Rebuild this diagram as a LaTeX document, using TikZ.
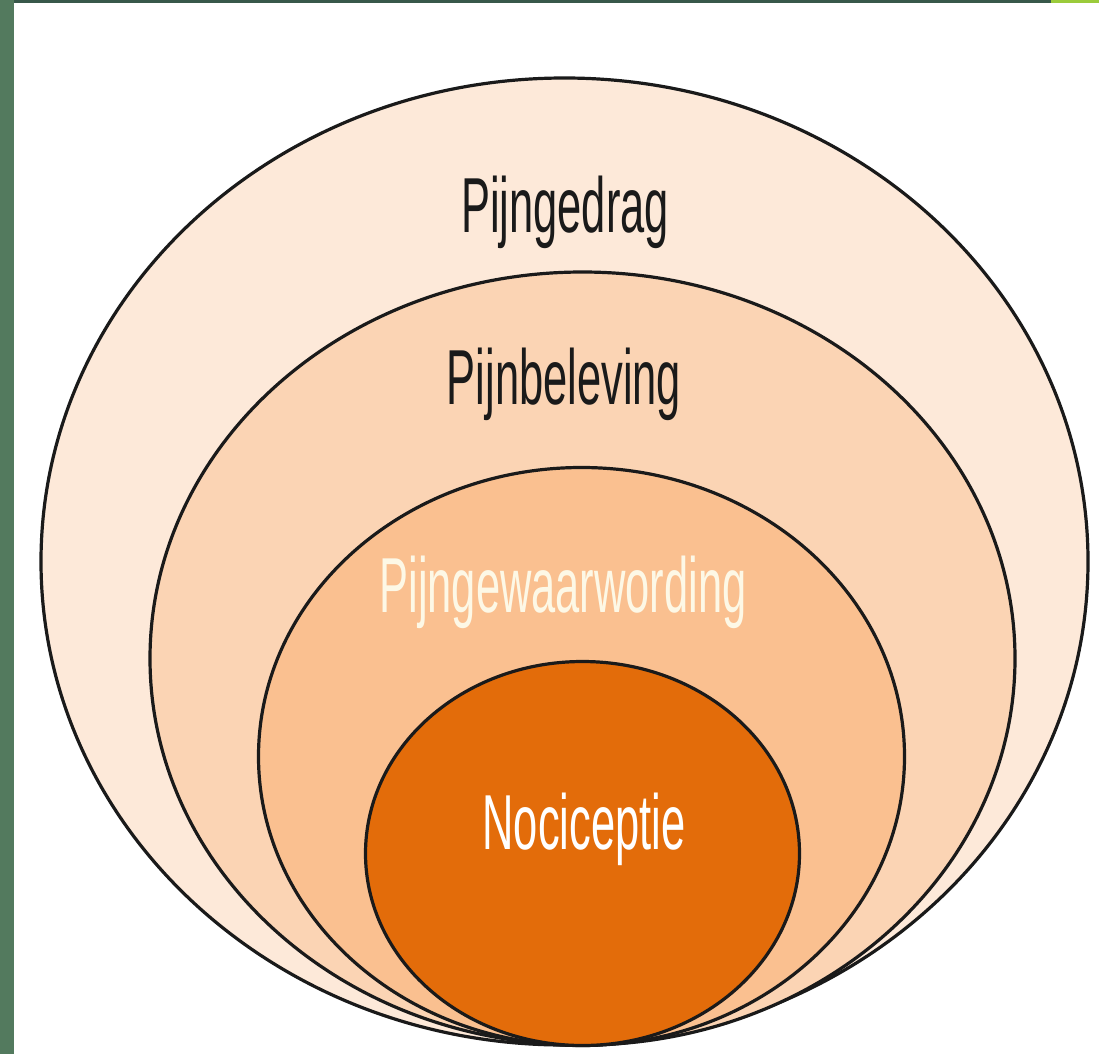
\documentclass[tikz,border=0pt]{standalone}
\usepackage{fontspec}
\setmainfont{Liberation Sans}
\usetikzlibrary{shapes.geometric}
\definecolor{ringA}{HTML}{FDE9D9}
\definecolor{ringB}{HTML}{FBD4B4}
\definecolor{ringC}{HTML}{FAC090}
\definecolor{core}{HTML}{E36C0A}
\definecolor{stripL}{HTML}{537A5E}
\definecolor{stripT}{HTML}{38584A}
\definecolor{stripG}{HTML}{9BCB3B}
\definecolor{ink}{HTML}{1A1A1A}
\definecolor{cream}{HTML}{FDF8E6}
\tikzset{
  layer/.style={ellipse, draw=ink, line width=3.2pt, inner sep=0pt},
  caption/.style={anchor=base, inner sep=0pt, font=\fontsize{78}{80}\selectfont},
}
\newcommand{\narrow}[1]{\scalebox{0.557}[1]{#1}}
\begin{document}
\begin{tikzpicture}[x=1pt,y=-1pt]
  % canvas and frame strips
  \fill[white] (0,0) rectangle (1099,1054);
  \useasboundingbox (0,0) rectangle (1099,1054);
  \fill[stripL] (0,0) rectangle (14,1054);
  \fill[stripT] (14,0) rectangle (1051,3);
  \fill[stripG] (1051,0) rectangle (1099,3);

  % nested layers, all touching at the bottom
  \node[layer, fill=ringA, minimum width=1047pt, minimum height=967pt] (gedrag) at (564.5,561.5) {};
  \node[layer, fill=ringB, minimum width=865pt, minimum height=773pt] (beleving) at (582.5,658.5) {};
  \node[layer, fill=ringC, minimum width=646pt, minimum height=578pt] (gewaar) at (581.5,756.5) {};
  \node[layer, fill=core, minimum width=434pt, minimum height=384pt] (noci) at (582.5,853.5) {};

  % layer captions
  \node[caption, text=ink] (tgedrag) at (565,232) {\narrow{Pijngedrag}};
  \node[caption, text=ink] (tbeleving) at (564,404) {\narrow{Pijnbeleving}};
  \node[caption, text=cream] (tgewaar) at (563,612) {\narrow{Pijngewaarwording}};
  \node[caption, text=white] (tnoci) at (584,849) {\narrow{Nociceptie}};
\end{tikzpicture}
\end{document}
